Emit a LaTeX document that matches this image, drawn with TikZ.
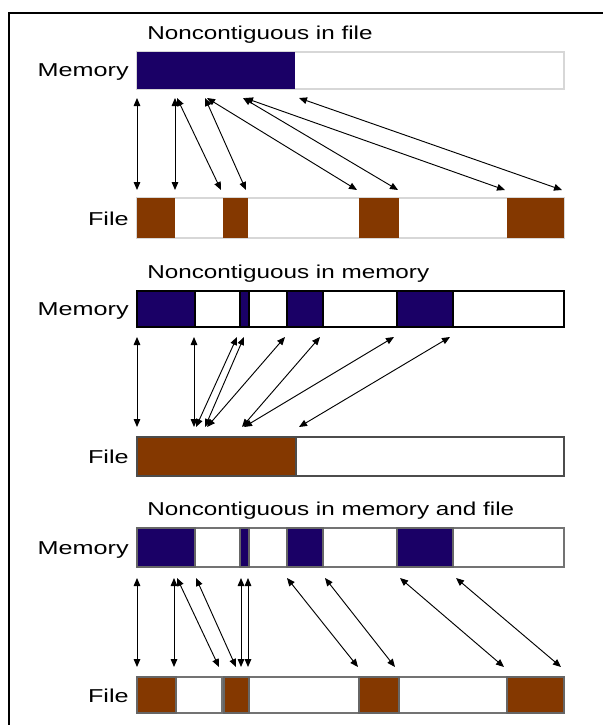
\documentclass[tikz,border=0pt]{standalone}
\usepackage{fontspec}
\setmainfont{Liberation Sans}
\usetikzlibrary{arrows.meta}
\definecolor{navy}{RGB}{26,0,102}
\definecolor{rust}{RGB}{132,56,0}
\definecolor{lightline}{RGB}{215,215,215}
\begin{document}
\begin{tikzpicture}[x=0.75pt,y=-0.75pt,
  link/.style={{Triangle[length=6pt,width=5pt]}-{Triangle[length=6pt,width=5pt]}, line width=0.7pt},
  titletext/.style={anchor=base west, inner sep=0pt, font=\fontsize{14}{16}\selectfont, xscale=1.3},
  lbltext/.style={anchor=base east, inner sep=0pt, font=\fontsize{14}{16}\selectfont, xscale=1.35},
  barA/.style={draw=lightline, line width=1.2pt, fill=white},
  barB/.style={draw=black, line width=0.9pt, fill=white},
  barC/.style={draw=black!55, line width=1pt, fill=white},
  memblk/.style={fill=navy},
  fileblk/.style={fill=rust}]
\useasboundingbox (0,0) rectangle (603,725);
\fill[white] (0,0) rectangle (603,725);
% frame
\draw[line width=1.6pt] (9,726) -- (9,13) -- (604,13);

% ---------------- Panel 1 ----------------
\node[titletext] (t1) at (147,39) {Noncontiguous in file};
\node[lbltext] (lm1) at (129,76) {Memory};
\node[lbltext] (lf1) at (129,225) {File};
\draw[barA] (137,52) rectangle (564,89);
\fill[memblk] (137,52) rectangle (295,89);
\draw[barA] (137,198) rectangle (564,238);
\foreach \a/\b in {137/175,223/248,359/399,507/564}
  \fill[fileblk] (\a,198) rectangle (\b,238);
\foreach \i/\a/\b in {1/137/137,2/175/175,3/177/221,4/205/246,5/207/357,6/243/398,7/245/505,8/299/562}{
  \coordinate (pa-t\i) at (\a,98);
  \coordinate (pa-b\i) at (\b,190);
  \draw[link] (pa-t\i) -- (pa-b\i);
}

% ---------------- Panel 2 ----------------
\node[titletext] (t2) at (147,278) {Noncontiguous in memory};
\node[lbltext] (lm2) at (129,315) {Memory};
\node[lbltext] (lf2) at (129,463) {File};
\draw[barB] (137,291) rectangle (564,327);
\foreach \a/\b in {137/195,240/249,287/323,397/453}
  \draw[memblk, draw=black, line width=0.9pt] (\a,291) rectangle (\b,327);
\draw[barB, draw=black!70] (137,437) rectangle (564,476);
\draw[fileblk, draw=black!70, line width=0.9pt] (137,437) rectangle (296,476);
\foreach \i/\a/\b in {1/137/137,2/194/194,3/237/196,4/244/205,5/285/207,6/320/242,7/394/244,8/450/299}{
  \coordinate (pb-t\i) at (\a,337);
  \coordinate (pb-b\i) at (\b,427);
  \draw[link] (pb-t\i) -- (pb-b\i);
}

% ---------------- Panel 3 ----------------
\node[titletext] (t3) at (147,515) {Noncontiguous in memory and file};
\node[lbltext] (lm3) at (129,554) {Memory};
\node[lbltext] (lf3) at (129,702) {File};
\draw[barC] (137,528) rectangle (564,567);
\foreach \a/\b in {137/195,240/249,287/323,397/453}
  \draw[memblk, draw=black!60, line width=0.8pt] (\a,528) rectangle (\b,567);
\draw[barC] (137,677) rectangle (222,713);
\draw[barC] (224,677) rectangle (564,713);
\foreach \a/\b in {137/176,224/249,359/399,507/564}
  \draw[fileblk, draw=black!60, line width=0.8pt] (\a,677) rectangle (\b,713);
\foreach \i/\a/\b in {1/137/137,2/174/174,3/177/219,4/196/236,5/241/241,6/248/248,7/287/358,8/325/395,9/400/504,10/456/561}{
  \coordinate (pc-t\i) at (\a,578);
  \coordinate (pc-b\i) at (\b,667);
  \draw[link] (pc-t\i) -- (pc-b\i);
}
\end{tikzpicture}
\end{document}
